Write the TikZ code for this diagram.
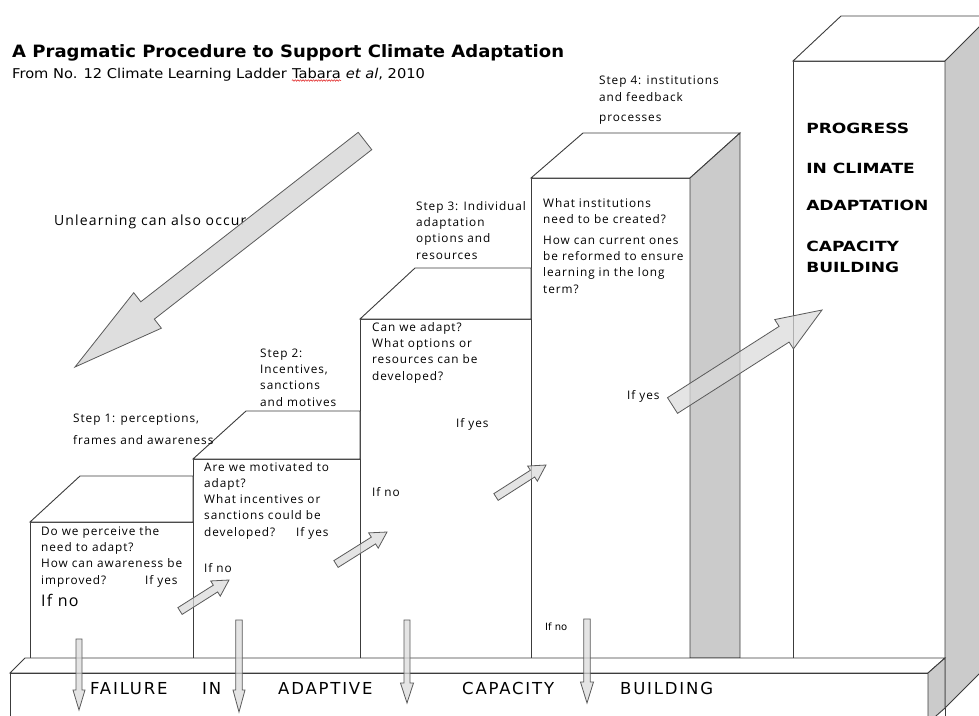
\documentclass[tikz,border=0pt]{standalone}
\usepackage{fontspec}
\setmainfont{DejaVu Sans}
\newfontfamily\labelfont[LetterSpace=8]{Open Sans}
\newfontfamily\barfont[LetterSpace=11]{DejaVu Sans}
\usetikzlibrary{calc,decorations.pathmorphing}

\definecolor{edgegray}{HTML}{3C3C3C}
\definecolor{sideface}{HTML}{CBCBCB}
\definecolor{arrowfill}{HTML}{DADADA}
\definecolor{arrowline}{HTML}{5A5A5A}
\definecolor{spellred}{HTML}{E02020}

\tikzset{
  face/.style={draw=edgegray, line width=0.9pt, fill=white, line join=miter},
  shadedface/.style={face, fill=sideface},
  fatarrow/.style={draw=arrowline, line width=0.8pt, fill=arrowfill, fill opacity=0.72, line join=miter},
  % multi-line text nodes are placed by the baseline of their LAST line
  txt/.style={inner sep=0pt, anchor=base west, align=left},
  boxtext/.style={txt, font=\labelfont\fontsize{11.8}{16.2}\selectfont},
  bigtext/.style={txt, font=\labelfont\fontsize{16}{18}\selectfont},
  subtext/.style={txt, font=\fontsize{13.5}{15}\selectfont, xscale=1.085},
  colcaps/.style={txt, font=\bfseries\fontsize{14}{16}\selectfont, xscale=1.22},
  barcaps/.style={txt, font=\barfont\fontsize{16.5}{18}\selectfont},
}

% outlined block arrow from tail #1 to tip #2:
% shaft half width #3, head half width #4, head length #5, extra style #6
\newcommand\blockarrow[6]{%
  \coordinate (neck) at ($(#2)!#5!(#1)$);
  \draw[fatarrow,#6] ($(#1)!#3!90:(#2)$) -- ($(neck)!#3!90:(#2)$)
    -- ($(neck)!#4!90:(#2)$) -- (#2) -- ($(neck)!#4!-90:(#2)$)
    -- ($(neck)!#3!-90:(#2)$) -- ($(#1)!#3!-90:(#2)$) -- cycle;
}

\begin{document}
\begin{tikzpicture}[x=1pt,y=-1pt]
\useasboundingbox (0,0) rectangle (979,715);
\clip (0,0) rectangle (979,715);

% ---- tall column: progress in adaptation
\draw[face] (793,61) rectangle (945,720);
\draw[face] (793,61) -- (841,16) -- (995,16) -- (945,61) -- cycle;
\draw[shadedface] (945,61) -- (990,16) -- (990,663) -- (945,708) -- cycle;

% ---- step 4 block
\draw[face] (531,178) rectangle (690,658);
\draw[face] (531,178) -- (583,133) -- (740,133) -- (690,178) -- cycle;
\draw[shadedface] (690,178) -- (740,133) -- (740,658) -- (690,658) -- cycle;

% ---- step 3 block
\draw[face] (360,319) rectangle (531,658);
\draw[face] (360,319) -- (415,268) -- (531,268) -- (531,319) -- cycle;

% ---- step 2 block
\draw[face] (193,459) rectangle (360,658);
\draw[face] (193,459) -- (246,411) -- (360,411) -- (360,459) -- cycle;

% ---- step 1 block
\draw[face] (30,522) rectangle (193,658);
\draw[face] (30,522) -- (80,476) -- (193,476) -- (193,522) -- cycle;

% ---- base slab
\draw[face] (10,673) -- (25,658) -- (945,658) -- (928,673) -- cycle;
\draw[face] (10,673) rectangle (928,725);
\draw[shadedface] (928,673) -- (945,658) -- (945,708) -- (928,723) -- cycle;

% ---- heading
\node[txt, font=\bfseries\fontsize{17}{19}\selectfont, xscale=1.06] (title) at (12,57)
  {A Pragmatic Procedure to Support Climate Adaptation};
\node[subtext] (src) at (12,78) {From No. 12 Climate Learning Ladder\ };
\node[subtext] (tabara) at (src.base east) {Tabara};
\node[subtext] (year) at (tabara.base east) {\ \textit{et al}, 2010};
\draw[spellred, line width=0.5pt, decorate,
      decoration={snake, amplitude=0.8pt, segment length=2.6pt}]
  ([yshift=-2.5pt]tabara.base west) -- ([yshift=-2.5pt]tabara.base east);

% ---- step captions
\node[boxtext, font=\labelfont\fontsize{11.8}{22}\selectfont] (step1) at (73,444)
  {Step 1: perceptions,\\frames and awareness};
\node[boxtext] (step2) at (260,406) {Step 2:\\Incentives,\\sanctions\\and motives};
\node[boxtext] (step3) at (416,259) {Step 3: Individual\\adaptation\\options and\\resources};
\node[boxtext, font=\labelfont\fontsize{11.8}{17}\selectfont] (step4) at (599,101)
  {Step 4: institutions\\and feedback};
\node[boxtext] (step4b) at (599,121) {processes};

% ---- questions on the blocks
\node[boxtext] (q1) at (41,584)
  {Do we perceive the\\need to adapt?\\How can awareness be\\improved?};
\node[boxtext] (yes1) at (145,584) {If yes};
\node[bigtext] (no1) at (41,606) {If no};

\node[boxtext] (q2) at (204,536)
  {Are we motivated to\\adapt?\\What incentives or\\sanctions could be\\developed?};
\node[boxtext] (yes2) at (296,536) {If yes};
\node[boxtext] (no2) at (204,572) {If no};

\node[boxtext] (q3) at (372,380)
  {Can we adapt?\\What options or\\resources can be\\developed?};
\node[boxtext] (yes3) at (456,427) {If yes};
\node[boxtext] (no3) at (372,496) {If no};

\node[boxtext] (q4) at (543,293)
  {What institutions\\need to be created?\\[5pt]How can current ones\\be reformed to ensure\\learning in the long\\term?};
\node[boxtext] (yes4) at (627,399) {If yes};
\node[txt, font=\fontsize{10}{12}\selectfont] (no4) at (545,630) {If no};

\node[txt, font=\labelfont\fontsize{14}{16}\selectfont] (unlearn) at (54,225)
  {Unlearning can also occur};

% ---- column caption
\node[colcaps] (pr1) at (806,133) {PROGRESS};
\node[colcaps] (pr2) at (806,173) {IN CLIMATE};
\node[colcaps] (pr3) at (806,210) {ADAPTATION};
\node[colcaps] (pr4) at (806,251) {CAPACITY};
\node[colcaps] (pr5) at (806,272) {BUILDING};

% ---- slab caption
\node[barcaps] (f1) at (90,694) {FAILURE};
\node[barcaps] (f2) at (202,694) {IN};
\node[barcaps] (f3) at (278,694) {ADAPTIVE};
\node[barcaps] (f4) at (462,694) {CAPACITY};
\node[barcaps] (f5) at (620,694) {BUILDING};

% ---- arrows
\coordinate (ul-tail) at (365,141);
\coordinate (ul-tip) at (75,367);
\blockarrow{ul-tail}{ul-tip}{11pt}{22.5pt}{92pt}{fill opacity=0.9}

\coordinate (up-tail) at (672.5,405.5);
\coordinate (up-tip) at (822,310);
\blockarrow{up-tail}{up-tip}{9.3pt}{17.4pt}{45pt}{}

\coordinate (ya-tail) at (180,611);
\coordinate (ya-tip) at (229,580);
\blockarrow{ya-tail}{ya-tip}{4pt}{9pt}{16pt}{}
\coordinate (yb-tail) at (336,564);
\coordinate (yb-tip) at (387,532);
\blockarrow{yb-tail}{yb-tip}{4pt}{9pt}{16pt}{}
\coordinate (yc-tail) at (496,497);
\coordinate (yc-tip) at (546,465);
\blockarrow{yc-tail}{yc-tip}{4pt}{9pt}{16pt}{}

\coordinate (da-tail) at (79,639);
\coordinate (da-tip) at (79,710);
\blockarrow{da-tail}{da-tip}{3pt}{6pt}{20pt}{}
\coordinate (db-tail) at (239,620);
\coordinate (db-tip) at (239,712);
\blockarrow{db-tail}{db-tip}{3.3pt}{6pt}{22pt}{}
\coordinate (dc-tail) at (407,620);
\coordinate (dc-tip) at (407,703);
\blockarrow{dc-tail}{dc-tip}{3pt}{6.5pt}{20pt}{}
\coordinate (dd-tail) at (587,619);
\coordinate (dd-tip) at (587,703);
\blockarrow{dd-tail}{dd-tip}{3.2pt}{6.5pt}{21pt}{}
\end{tikzpicture}
\end{document}
